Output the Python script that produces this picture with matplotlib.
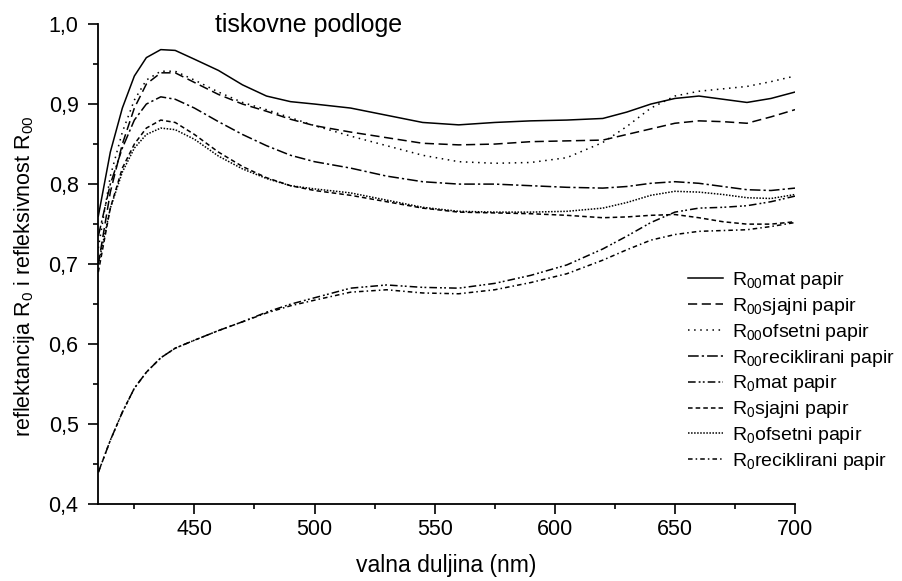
import numpy as np
import matplotlib
matplotlib.use("Agg")
import matplotlib.pyplot as plt
from matplotlib.ticker import MultipleLocator, FuncFormatter

plt.rcParams['font.family'] = ['Liberation Sans', 'DejaVu Sans']
plt.rcParams['mathtext.fontset'] = 'custom'
plt.rcParams['mathtext.rm'] = 'Liberation Sans'
plt.rcParams['mathtext.it'] = 'Liberation Sans'

# valna duljina (nm)
wl = [410, 415, 420, 425, 430, 436, 442, 450, 460, 470, 480, 490, 500, 515, 530,
      545, 560, 575, 590, 605, 620, 630, 640, 650, 660, 670, 680, 690, 700]

r00_mat = [0.760, 0.840, 0.895, 0.935, 0.958, 0.968, 0.967, 0.956, 0.942, 0.924, 0.910, 0.903, 0.900, 0.895, 0.886,
           0.877, 0.874, 0.877, 0.879, 0.880, 0.882, 0.890, 0.900, 0.907, 0.910, 0.906, 0.902, 0.907, 0.915]
r00_sjajni = [0.700, 0.790, 0.850, 0.895, 0.925, 0.939, 0.939, 0.927, 0.912, 0.900, 0.891, 0.881, 0.873, 0.865, 0.858,
              0.851, 0.849, 0.850, 0.853, 0.854, 0.855, 0.862, 0.869, 0.876, 0.879, 0.878, 0.876, 0.884, 0.893]
r00_ofsetni = [0.720, 0.810, 0.865, 0.905, 0.930, 0.941, 0.941, 0.930, 0.915, 0.902, 0.893, 0.883, 0.873, 0.860, 0.848,
               0.836, 0.828, 0.826, 0.827, 0.833, 0.852, 0.872, 0.895, 0.910, 0.916, 0.919, 0.922, 0.928, 0.935]
r00_recikl = [0.735, 0.800, 0.845, 0.880, 0.900, 0.909, 0.906, 0.895, 0.878, 0.862, 0.848, 0.836, 0.828, 0.820, 0.810,
              0.803, 0.800, 0.800, 0.798, 0.796, 0.795, 0.797, 0.801, 0.803, 0.801, 0.797, 0.793, 0.792, 0.795]
r0_mat = [0.440, 0.480, 0.515, 0.545, 0.565, 0.583, 0.595, 0.605, 0.617, 0.628, 0.640, 0.650, 0.658, 0.670, 0.674,
          0.671, 0.670, 0.676, 0.686, 0.699, 0.719, 0.735, 0.752, 0.765, 0.770, 0.771, 0.773, 0.778, 0.785]
r0_sjajni = [0.690, 0.770, 0.820, 0.850, 0.870, 0.880, 0.877, 0.862, 0.840, 0.822, 0.808, 0.798, 0.792, 0.786, 0.778,
             0.770, 0.765, 0.764, 0.763, 0.761, 0.758, 0.759, 0.761, 0.762, 0.758, 0.753, 0.750, 0.750, 0.753]
r0_ofsetni = [0.700, 0.770, 0.815, 0.845, 0.862, 0.870, 0.868, 0.856, 0.835, 0.819, 0.807, 0.798, 0.794, 0.789, 0.780,
              0.771, 0.766, 0.765, 0.765, 0.766, 0.770, 0.777, 0.786, 0.791, 0.790, 0.787, 0.783, 0.782, 0.787]
r0_recikl = [0.440, 0.480, 0.515, 0.545, 0.565, 0.583, 0.595, 0.605, 0.617, 0.628, 0.639, 0.648, 0.655, 0.665, 0.668,
             0.664, 0.663, 0.668, 0.677, 0.688, 0.705, 0.718, 0.730, 0.737, 0.741, 0.742, 0.743, 0.747, 0.752]

labels = [r'R$_{\mathregular{00}}$mat papir', r'R$_{\mathregular{00}}$sjajni papir',
          r'R$_{\mathregular{00}}$ofsetni papir', r'R$_{\mathregular{00}}$reciklirani papir',
          r'R$_{\mathregular{0}}$mat papir', r'R$_{\mathregular{0}}$sjajni papir',
          r'R$_{\mathregular{0}}$ofsetni papir', r'R$_{\mathregular{0}}$reciklirani papir']
series = [r00_mat, r00_sjajni, r00_ofsetni, r00_recikl, r0_mat, r0_sjajni, r0_ofsetni, r0_recikl]
dash_styles = [None, (6, 3), (1, 3), (7, 2, 1.5, 2), (5, 2, 1.2, 1.5, 1.2, 2),
               (3, 2), (1, 1), (3, 2, 1, 2)]

fig = plt.figure(figsize=(9.02, 5.81), dpi=100)
ax = fig.add_axes([0.109, 0.132, 0.7724, 0.8267])

for y, lab, ds in zip(series, labels, dash_styles):
    line, = ax.plot(wl, y, color='black', lw=1.1, label=lab)
    if ds is not None:
        line.set_dashes(ds)

ax.set_xlim(410, 700)
ax.set_ylim(0.4, 1.0)
ax.xaxis.set_major_locator(MultipleLocator(50))
ax.xaxis.set_minor_locator(MultipleLocator(25))
ax.yaxis.set_major_locator(MultipleLocator(0.1))
ax.yaxis.set_minor_locator(MultipleLocator(0.05))
ax.yaxis.set_major_formatter(FuncFormatter(lambda v, p: f"{v:.1f}".replace('.', ',')))

for s in ['top', 'right']:
    ax.spines[s].set_visible(False)
for s in ['left', 'bottom']:
    ax.spines[s].set_linewidth(1.3)

ax.tick_params(which='major', direction='out', length=7.2, width=1.2, labelsize=15.5)
ax.tick_params(which='minor', direction='out', length=3.6, width=1.2)
ax.tick_params(axis='x', which='major', pad=3.6)
ax.tick_params(axis='y', which='major', pad=7)

ax.set_xlabel('valna duljina (nm)', fontsize=16.5)
ax.xaxis.set_label_coords(0.5, -0.104)
ax.set_ylabel(r'reflektancija R$_{\mathregular{0}}$ i refleksivnost R$_{\mathregular{00}}$', fontsize=15.5)
ax.yaxis.set_label_coords(-0.088, 0.475)

fig.text(309 / 902, 1 - 32 / 581, 'tiskovne podloge', fontsize=18, ha='center', va='baseline')

ax.legend(loc='upper left', bbox_to_anchor=(688 / 902, 1 - 270 / 581), bbox_transform=fig.transFigure,
          frameon=False, fontsize=14, handlelength=1.8, handletextpad=0.45, labelspacing=0.25,
          borderpad=0, borderaxespad=0)

fig.savefig('out.png', dpi=100)
